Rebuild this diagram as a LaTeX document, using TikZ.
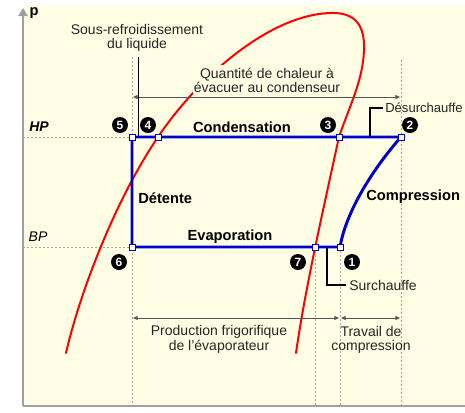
\documentclass[tikz,border=0pt]{standalone}
\usepackage{fontspec}
\setmainfont{Liberation Sans}
\usetikzlibrary{arrows.meta}
\definecolor{cream}{HTML}{FFFDE4}
\definecolor{cycblue}{HTML}{0000CC}
\definecolor{guide}{HTML}{A8A8A8}
\definecolor{dimgr}{HTML}{555555}
\definecolor{axgr}{HTML}{A0A0A0}
\definecolor{satred}{HTML}{FF0000}
\begin{document}
\begin{tikzpicture}[x=0.75pt,y=-0.75pt,
  guideline/.style={guide, line width=0.75pt, dash pattern=on 1.5pt off 1.5pt},
  cyc/.style={cycblue, line width=2.2pt, line join=round},
  ptsq/.style={draw=cycblue, fill=white, line width=0.6pt, inner sep=0pt, minimum size=4.5pt},
  num/.style={circle, fill=black, text=white, font=\bfseries\fontsize{9}{9}\selectfont, inner sep=0pt, minimum size=12pt},
  lbl/.style={font=\fontsize{10.5}{11}\selectfont, text=black!85, inner sep=0pt},
  blbl/.style={font=\bfseries\fontsize{11}{13}\selectfont, inner sep=0pt},
  dimarrow/.style={dimgr, line width=0.75pt, {Triangle[length=3.5pt,width=3pt]}-{Triangle[length=3.5pt,width=3pt]}},
  leader/.style={black, line width=0.9pt}]
\useasboundingbox (0,0) rectangle (465,412);
% panel
\fill[cream] (23,5) rectangle (465,406);
\coordinate (axb) at (23,406);
\coordinate (axt) at (23,8);
\coordinate (axr) at (465,406);
\draw[axgr, line width=1pt] (axr) -- (axb);
\draw[axgr, line width=1pt, -{Triangle[length=6pt,width=7pt]}] (axb) -- (axt);
\node[font=\bfseries\fontsize{11}{11}\selectfont, inner sep=0pt] (plab) at (34,13) {p};
% key points
\coordinate (p5) at (132,137);
\coordinate (p4) at (158,137);
\coordinate (p3) at (339,137);
\coordinate (p2) at (401,137);
\coordinate (p6) at (132,247);
\coordinate (p7) at (315,247);
\coordinate (p1) at (340,247);
% guide lines
\coordinate (hp0) at (23,137);
\coordinate (bp0) at (23,247);
\coordinate (g5t) at (132,57);
\coordinate (g5b) at (132,406);
\coordinate (g2t) at (401,60);
\coordinate (g2b) at (401,406);
\coordinate (g7b) at (315,406);
\coordinate (g1b) at (340,406);
\draw[guideline] (hp0) -- (p5);
\draw[guideline] (bp0) -- (p6);
\draw[guideline] (g5t) -- (g5b);
\draw[guideline] (g2t) -- (g2b);
\draw[guideline] (p7) -- (g7b);
\draw[guideline] (p1) -- (g1b);
% saturation curve
\coordinate (rs) at (66,353);
\coordinate (rtop) at (330,13);
\coordinate (rright) at (364,50);
\coordinate (re) at (296,353);
\draw[satred, line width=1.5pt, line cap=round]
  (rs) .. controls (78,300) and (112,205) .. (p4)
       .. controls (199,76) and (270,15) .. (rtop)
       .. controls (355,12) and (365,25) .. (rright)
       .. controls (363,80) and (350,105) .. (p3)
       .. controls (322,215) and (305,290) .. (re);
% texts
\node[lbl, align=center] (tsous) at (137,38) {Sous-refroidissement\\du liquide};
\node[lbl, align=center, fill=cream, inner xsep=1pt, inner ysep=2pt] (tquant) at (267,80.5) {Quantité de chaleur à\\évacuer au condenseur};
\node[lbl, align=center] (tprod) at (219,339.5) {Production frigorifique\\de l'évaporateur};
\node[lbl, align=center] (ttrav) at (371,340) {Travail de\\compression};
% dimension arrows
\coordinate (qa) at (133,97);
\coordinate (qb) at (400,97);
\draw[dimarrow] (qa) -- (qb);
\coordinate (ra) at (133,318);
\coordinate (rb) at (339,318);
\coordinate (rc) at (341,318);
\coordinate (rd) at (400,318);
\draw[dimarrow] (ra) -- (rb);
\draw[dimarrow] (rc) -- (rd);
% leaders
\coordinate (sr1) at (138.5,57);
\coordinate (sr2) at (138.5,137);
\draw[leader] (sr1) -- (sr2);
\coordinate (ds1) at (370,137);
\coordinate (ds2) at (370,108);
\coordinate (ds3) at (383,108);
\draw[leader] (ds1) -- (ds2) -- (ds3);
\node[font=\fontsize{9.8}{11}\selectfont, text=black!85, inner sep=0pt, anchor=west] (tdes) at (385,108) {Désurchauffe};
\coordinate (sc1) at (327,247);
\coordinate (sc2) at (327,285);
\coordinate (sc3) at (346,285);
\draw[leader] (sc1) -- (sc2) -- (sc3);
\node[lbl, anchor=west] (tsur) at (349,285) {Surchauffe};
% cycle
\draw[cyc] (p2) -- (p5) -- (p6) -- (p1) .. controls (346,212) and (372,170) .. (p2);
\foreach \p in {p5,p4,p3,p2,p6,p7,p1} \node[ptsq] (sq\p) at (\p) {};
% cycle labels
\node[blbl] (tcond) at (242,127) {Condensation};
\node[blbl] (tevap) at (230,237) {Evaporation};
\node[blbl, anchor=west] (tdet) at (138,198) {Détente};
\node[blbl, anchor=west] (tcomp) at (366,197) {Compression};
\node[font=\bfseries\itshape\fontsize{10.5}{11}\selectfont, inner sep=0pt] (thp) at (39,127) {HP};
\node[font=\itshape\fontsize{10.5}{11}\selectfont, inner sep=0pt] (tbp) at (38,237) {BP};
% numbered points
\node[num] (n5) at (120,125) {5};
\node[num] (n4) at (148,125) {4};
\node[num] (n3) at (328,125) {3};
\node[num] (n2) at (410,125) {2};
\node[num] (n6) at (119,262) {6};
\node[num] (n7) at (298,262) {7};
\node[num] (n1) at (352,262) {1};
\end{tikzpicture}
\end{document}
